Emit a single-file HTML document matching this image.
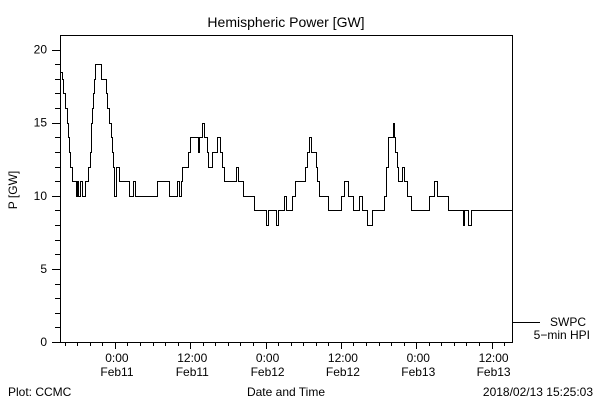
<!DOCTYPE html>
<html><head><meta charset="utf-8"><style>
html,body{margin:0;padding:0;background:#fff;}
svg{display:block;font-family:"Liberation Sans",sans-serif;}
text{fill:#000;font-size:12px;}
</style></head><body>
<svg id="chart" width="600" height="400" viewBox="0 0 600 400">
<rect x="0" y="0" width="600" height="400" fill="#fff"/>
<text x="286" y="27" text-anchor="middle" style="font-size:14px">Hemispheric Power [GW]</text>
<text transform="translate(17,190) rotate(-90)" text-anchor="middle">P [GW]</text>
<text x="286" y="396" text-anchor="middle">Date and Time</text>
<text x="8" y="396">Plot: CCMC</text>
<text x="593" y="396" text-anchor="end">2018/02/13 15:25:03</text>
<g id="axes"></g>
<g id="series"></g>
<g>
<line x1="512" y1="322.5" x2="540" y2="322.5" stroke="#000" stroke-width="1"/>
<text x="586" y="326" text-anchor="end">SWPC</text>
<text x="590" y="339" text-anchor="end">5−min HPI</text>
</g>
</svg>
<script>
// hours since start (2018-02-10 ~06:30 UTC, end 72h later), values in GW
const stepHours = [0,0.1,0.27,0.53,0.8,1.06,1.22,1.38,1.54,1.86,2.5,2.65,2.8,3.19,3.45,3.98,4.5,4.72,4.88,4.99,5.1,5.26,5.36,5.63,6.48,7.28,7.54,7.86,8.12,8.34,8.5,8.66,8.87,9.45,10.99,11.68,11.95,15.4,17.42,18.58,18.96,19.22,19.43,20.44,20.7,21.93,22.14,22.57,22.99,23.36,23.63,24.26,25.06,25.53,25.75,26.07,28.03,28.3,29.2,30.95,32.81,33.08,34.4,34.77,35.68,36,37,37.38,39.07,39.3,39.71,39.93,40.73,40.99,41.3,42.64,44.81,45.29,45.82,46.72,47.63,48.05,48.9,49.65,51.66,51.93,52.2,52.99,53.2,53.41,53.63,53.89,54.48,54.84,55.22,55.91,58.73,59.57,60.11,61.86,64.14,64.4,65.04,65.42];
const powerValues = [18.5,18.5,18,17,16,15,14,13,12,11,10,11,10,11,10,11,12,13,14,15,16,17,18,19,18,17,16,15,14,13,12,10,12,11,10,11,10,11,10,11,10,11,12,13,14,13,14,15,14,13,12,13,14,13,12,11,12,11,10,9,8,9,8,9,10,9,10,11,12,13,14,13,12,11,10,9,10,11,10,9,10,9,8,9,10,12,14,15,14,13,12,11,12,11,10,9,10,11,10,9,8,9,8,9];
const yTickValues = [0,5,10,15,20];
const xMajorHours = [8.75,20.75,32.75,44.75,56.75,68.75];
const xTimeLabels = ["0:00","12:00","0:00","12:00","0:00","12:00"];
const xDateLabels = ["Feb11","Feb11","Feb12","Feb12","Feb13","Feb13"];
const hourMax = 72, yMax = 21;

const L=60,R=512,T=35,B=342;
const xs=h=>L+(h/hourMax)*(R-L);
const ys=v=>B-(v/yMax)*(B-T);
const NS="http://www.w3.org/2000/svg";
const axes=document.getElementById('axes'), ser=document.getElementById('series');
function mk(tag,attrs,parent){const e=document.createElementNS(NS,tag);for(const k in attrs)e.setAttribute(k,attrs[k]);parent.appendChild(e);return e;}

const box=mk('rect',{x:L+0.5,y:T+0.5,width:R-L,height:B-T,fill:'none',stroke:'#000','stroke-width':1},axes);



for(let v=0;v<=20;v++){
  const y=Math.round(ys(v))+0.5;const major=v%5===0;
  const t=mk('line',{x1:major?52:55,x2:L,y1:y,y2:y,stroke:'#000','stroke-width':1},axes);
  
  
}
yTickValues.forEach(v=>{
  const t=mk('text',{x:47,y:ys(v)+4,'text-anchor':'end'},axes);t.textContent=v;
  
  
});
for(let h=xMajorHours[0]-8;h<hourMax;h+=2){
  if(h<=0)continue;
  const x=Math.round(xs(h))+0.5;const major=xMajorHours.some(m=>Math.abs(m-h)<0.01);
  const t=mk('line',{x1:x,x2:x,y1:B,y2:major?349:346,stroke:'#000','stroke-width':1},axes);
  
  
}
xMajorHours.forEach((h,i)=>{
  const a=mk('text',{x:xs(h)+2,y:362,'text-anchor':'middle'},axes);a.textContent=xTimeLabels[i];
  
  
  const b=mk('text',{x:xs(h)+2,y:376,'text-anchor':'middle'},axes);b.textContent=xDateLabels[i];
  
  
});

let d='';
for(let i=0;i<stepHours.length;i++){
  const x=(Math.round(xs(stepHours[i]))+0.5),y=(Math.round(ys(powerValues[i]))+0.5);
  if(i===0)d+=`M${x},${y}`;else d+=`V${y}`;
  const xn=Math.round(xs(i+1<stepHours.length?stepHours[i+1]:hourMax))+0.5;
  d+=`H${xn}`;
}
const p=mk('path',{d:d,fill:'none',stroke:'#000','stroke-width':1},ser);


</script>
</body></html>
